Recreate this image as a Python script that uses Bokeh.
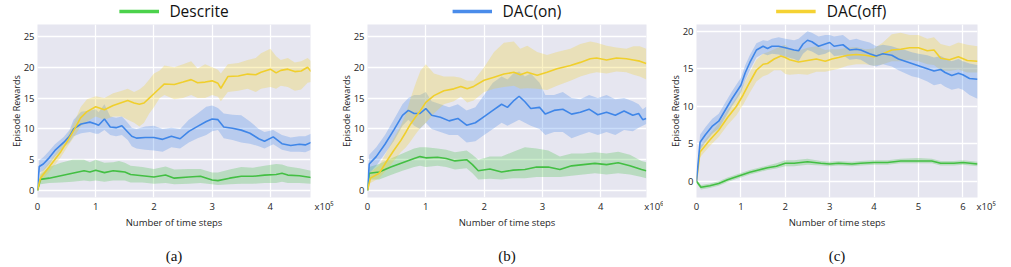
from bokeh.plotting import figure
from bokeh.models import Range1d, FixedTicker, Legend, LegendItem, LinearAxis
from bokeh.layouts import row, column
from bokeh.embed import file_html
from bokeh.resources import INLINE

# ---------------- data ----------------
x_ticks_ab = [0, 1, 2, 3, 4]
x_ticks_c = [0, 1, 2, 3, 4, 5, 6]
y_ticks_ab = [0, 5, 10, 15, 20, 25]
y_ticks_c = [0, 5, 10, 15, 20]
legend_names = ["Descrite", "DAC(on)", "DAC(off)"]
captions = ["(a)", "(b)", "(c)"]
x_exponents = ["x10\u2075", "x10\u2076", "x10\u2075"]

# panel (a)
a_yel_x = [0, 0.05, 0.2, 0.4, 0.52, 0.65, 0.74, 0.85, 1.0, 1.15, 1.3, 1.45, 1.55, 1.66, 1.75, 1.83, 1.92, 2.0, 2.1, 2.18, 2.35, 2.5, 2.64, 2.75, 2.88, 3.0, 3.1, 3.15, 3.27, 3.45, 3.61, 3.75, 3.84, 4.0, 4.1, 4.18, 4.3, 4.42, 4.53, 4.64, 4.70]
a_yel = [0, 2.0, 3.8, 6.3, 8.1, 10.2, 11.8, 12.8, 13.6, 13.1, 13.8, 14.3, 14.6, 14.2, 14.0, 14.2, 15.0, 15.7, 16.6, 17.3, 17.2, 17.6, 18.0, 17.5, 17.6, 17.8, 17.4, 16.6, 18.5, 18.6, 18.9, 18.8, 19.2, 19.7, 19.1, 19.5, 19.7, 19.3, 19.4, 20.0, 19.3]
a_yel_hi = [0, 2.8, 4.6, 7.2, 9.0, 11.5, 13.5, 14.8, 15.3, 15.0, 15.8, 16.2, 16.5, 16.0, 16.4, 17.0, 18.0, 19.0, 19.5, 20.3, 20.0, 20.5, 21.0, 19.8, 20.5, 20.0, 19.6, 19.0, 20.5, 20.7, 21.2, 21.5, 22.3, 23.0, 21.8, 21.2, 21.5, 20.8, 21.0, 21.5, 21.0]
a_yel_lo = [0, 1.3, 3.0, 5.4, 7.2, 9.0, 10.4, 11.2, 12.0, 11.5, 12.0, 12.0, 11.5, 11.0, 10.4, 11.0, 12.5, 13.5, 15.0, 15.5, 14.8, 15.0, 15.5, 15.0, 15.0, 15.5, 15.2, 14.5, 16.0, 16.2, 16.5, 16.0, 16.5, 16.8, 16.5, 17.0, 16.8, 16.2, 16.4, 17.5, 17.6]

a_blu_x = [0, 0.03, 0.1, 0.2, 0.3, 0.45, 0.55, 0.62, 0.75, 0.9, 1.0, 1.05, 1.15, 1.25, 1.35, 1.45, 1.55, 1.62, 1.7, 1.85, 2.0, 2.15, 2.3, 2.45, 2.6, 2.75, 2.9, 3.0, 3.1, 3.2, 3.35, 3.5, 3.65, 3.8, 3.9, 4.05, 4.2, 4.35, 4.5, 4.6, 4.7]
a_blu = [0, 3.9, 4.3, 5.3, 6.5, 7.8, 8.8, 10.0, 10.8, 11.1, 10.8, 10.6, 11.6, 10.3, 10.2, 10.5, 9.5, 8.8, 8.5, 8.6, 8.6, 8.3, 8.8, 8.4, 9.6, 10.4, 11.2, 11.6, 11.5, 10.3, 10.1, 9.8, 9.3, 8.4, 8.0, 8.7, 7.6, 7.3, 7.5, 7.4, 7.8]
a_blu_hi = [0, 4.9, 5.4, 6.4, 7.5, 8.7, 9.8, 11.5, 12.8, 13.0, 13.2, 12.7, 14.0, 12.0, 11.8, 12.0, 11.0, 10.2, 10.0, 10.4, 10.5, 10.0, 10.2, 10.0, 11.5, 12.5, 13.6, 13.8, 13.4, 12.5, 12.3, 12.2, 11.2, 10.0, 9.5, 9.8, 9.0, 8.6, 8.8, 8.8, 9.2]
a_blu_lo = [0, 2.9, 3.2, 4.2, 5.5, 7.0, 7.8, 8.8, 9.3, 9.5, 9.2, 9.2, 9.8, 9.0, 8.8, 9.0, 8.2, 7.2, 6.8, 6.6, 6.5, 6.3, 7.0, 6.8, 7.8, 8.5, 9.0, 9.6, 9.8, 8.5, 8.2, 7.8, 7.6, 7.2, 6.8, 7.5, 6.6, 6.3, 6.3, 6.2, 6.6]

a_grn_x = [0, 0.05, 0.2, 0.4, 0.6, 0.8, 0.9, 1.0, 1.15, 1.3, 1.4, 1.5, 1.6, 1.8, 2.0, 2.2, 2.35, 2.6, 2.8, 3.0, 3.1, 3.3, 3.5, 3.7, 3.9, 4.1, 4.2, 4.3, 4.5, 4.7]
a_grn = [0, 1.8, 2.0, 2.4, 2.8, 3.2, 3.0, 3.3, 2.9, 3.2, 3.1, 3.0, 2.6, 2.4, 2.2, 2.5, 2.0, 2.2, 2.3, 1.7, 1.6, 2.0, 2.3, 2.3, 2.5, 2.6, 2.8, 2.5, 2.4, 2.1]
a_grn_hi = [0, 2.6, 3.8, 4.5, 5.0, 5.0, 4.6, 5.0, 4.5, 4.6, 4.8, 4.5, 4.0, 3.8, 3.5, 3.9, 3.4, 3.5, 3.5, 2.9, 2.9, 3.4, 3.8, 3.7, 4.0, 4.3, 4.2, 3.9, 3.6, 3.2]
a_grn_lo = [0, 1.0, 1.2, 1.3, 1.4, 1.6, 1.5, 1.6, 1.4, 1.6, 1.6, 1.6, 1.3, 1.3, 1.1, 1.2, 1.0, 1.1, 1.2, 1.0, 0.9, 1.0, 1.1, 1.1, 1.2, 1.2, 1.4, 1.2, 1.2, 1.1]

# panel (b)
b_yel_x = [0, 0.05, 0.2, 0.34, 0.45, 0.57, 0.66, 0.74, 0.83, 0.91, 1.0, 1.14, 1.31, 1.48, 1.6, 1.71, 1.82, 2.0, 2.17, 2.34, 2.51, 2.62, 2.74, 2.91, 3.08, 3.25, 3.48, 3.65, 3.82, 3.93, 4.1, 4.27, 4.44, 4.56, 4.67, 4.78]
b_yel = [0, 2.0, 2.8, 4.9, 6.5, 8.1, 9.5, 10.8, 12.0, 13.0, 14.3, 15.4, 16.2, 16.5, 16.9, 16.5, 16.9, 17.9, 18.4, 18.9, 19.2, 18.8, 19.2, 18.7, 19.2, 19.75, 20.3, 20.8, 21.4, 21.5, 21.2, 21.5, 21.4, 21.2, 21.0, 20.6]
b_yel_hi = [0, 3.0, 4.0, 6.5, 8.5, 10.5, 12.5, 15.0, 17.5, 19.5, 20.5, 19.0, 18.5, 18.5, 18.3, 17.8, 17.8, 20.0, 22.5, 24.0, 24.2, 23.0, 23.5, 22.5, 22.0, 22.5, 23.0, 23.8, 24.2, 24.0, 23.5, 23.2, 23.0, 23.4, 23.4, 23.0]
b_yel_lo = [0, 1.2, 2.0, 3.5, 4.8, 6.2, 7.0, 8.0, 9.2, 10.2, 11.0, 12.5, 14.0, 14.5, 15.2, 14.3, 14.6, 16.0, 16.5, 16.8, 17.0, 16.5, 16.6, 16.5, 16.3, 17.0, 17.8, 18.5, 19.0, 19.2, 19.0, 19.3, 19.2, 18.8, 18.5, 18.0]

b_blu_x = [0, 0.03, 0.15, 0.3, 0.45, 0.6, 0.7, 0.8, 0.9, 1.0, 1.1, 1.25, 1.4, 1.55, 1.7, 1.85, 2.0, 2.15, 2.3, 2.4, 2.5, 2.6, 2.7, 2.8, 2.95, 3.05, 3.2, 3.35, 3.5, 3.65, 3.8, 3.95, 4.1, 4.25, 4.4, 4.55, 4.65, 4.72, 4.78]
b_blu = [0, 4.3, 5.5, 7.5, 9.8, 12.2, 13.0, 12.5, 12.5, 13.3, 12.2, 11.9, 11.3, 11.7, 10.6, 11.0, 12.0, 13.0, 14.0, 13.5, 14.5, 15.3, 14.4, 13.3, 13.5, 12.4, 13.0, 13.2, 12.4, 12.7, 13.2, 12.3, 12.7, 12.2, 12.9, 12.2, 12.5, 11.5, 11.7]
b_blu_hi = [0, 5.8, 7.0, 9.0, 11.5, 14.0, 15.0, 15.5, 15.5, 16.0, 14.5, 14.0, 13.5, 14.0, 13.0, 13.5, 15.5, 17.5, 18.5, 18.0, 19.0, 19.3, 18.5, 19.0, 17.5, 15.5, 15.5, 16.0, 15.0, 14.8, 15.5, 15.0, 15.5, 14.8, 15.0, 14.5, 14.0, 13.2, 13.6]
b_blu_lo = [0, 2.8, 4.0, 6.0, 8.0, 10.5, 11.5, 10.5, 10.0, 11.0, 10.0, 9.5, 9.0, 9.0, 7.8, 8.0, 9.0, 10.0, 11.0, 10.5, 11.0, 11.5, 11.0, 10.5, 10.0, 9.0, 9.5, 9.5, 8.5, 9.0, 9.5, 9.0, 9.5, 9.0, 9.8, 9.6, 10.2, 10.5, 10.8]

b_grn_x = [0, 0.03, 0.2, 0.4, 0.6, 0.8, 0.9, 1.0, 1.2, 1.35, 1.5, 1.7, 1.8, 1.9, 2.1, 2.3, 2.5, 2.7, 2.9, 3.1, 3.3, 3.5, 3.7, 3.9, 4.1, 4.3, 4.5, 4.7, 4.78]
b_grn = [0, 2.8, 3.0, 3.8, 4.5, 5.2, 5.5, 5.3, 5.4, 5.2, 4.8, 5.0, 4.2, 3.2, 3.5, 3.0, 3.3, 3.4, 3.8, 3.8, 3.4, 4.0, 4.2, 4.4, 4.2, 4.5, 4.0, 3.4, 3.2]
b_grn_hi = [0, 3.8, 4.3, 5.2, 6.0, 6.8, 7.0, 7.0, 6.8, 6.6, 6.2, 6.5, 5.8, 5.0, 5.5, 5.5, 6.3, 7.0, 6.8, 6.5, 5.5, 6.0, 6.0, 6.2, 6.0, 6.3, 5.8, 4.8, 4.6]
b_grn_lo = [0, 1.8, 1.8, 2.5, 3.2, 3.8, 4.0, 3.8, 4.0, 3.8, 3.4, 3.6, 2.8, 1.8, 1.9, 1.8, 2.0, 2.0, 2.2, 2.2, 2.2, 2.4, 2.6, 2.8, 2.6, 2.8, 2.6, 2.2, 2.0]

# panel (c)
c_blu_x = [0, 0.08, 0.2, 0.35, 0.5, 0.65, 0.8, 1.0, 1.1, 1.2, 1.35, 1.5, 1.6, 1.7, 1.85, 2.0, 2.2, 2.3, 2.4, 2.5, 2.6, 2.75, 2.9, 3.0, 3.1, 3.3, 3.45, 3.6, 3.7, 3.9, 4.05, 4.2, 4.4, 4.55, 4.7, 4.85, 5.0, 5.2, 5.35, 5.5, 5.6, 5.75, 5.9, 6.0, 6.15, 6.33]
c_blu = [0, 5.2, 6.2, 7.3, 8.0, 9.5, 11.0, 12.8, 14.5, 15.8, 17.5, 18.0, 17.7, 18.0, 18.0, 17.8, 17.5, 17.4, 18.3, 18.8, 18.6, 18.0, 18.3, 18.5, 18.0, 18.2, 17.5, 17.6, 17.5, 17.0, 16.7, 17.0, 16.8, 16.3, 16.0, 15.7, 15.4, 15.0, 14.7, 14.9, 14.5, 14.1, 14.4, 14.2, 13.7, 13.6]
c_blu_hi = [0, 6.2, 7.2, 8.3, 9.0, 10.5, 12.0, 13.8, 15.5, 16.8, 18.4, 18.8, 18.7, 19.0, 19.2, 19.0, 18.8, 19.0, 19.5, 20.0, 19.8, 19.3, 19.5, 19.5, 19.3, 19.5, 18.8, 19.0, 18.8, 18.5, 18.0, 18.2, 18.0, 17.7, 17.5, 17.2, 17.0, 16.8, 16.5, 16.7, 16.4, 16.0, 16.3, 16.0, 15.7, 15.5]
c_blu_lo = [0, 4.2, 5.2, 6.3, 7.0, 8.5, 10.0, 11.8, 13.5, 14.8, 16.5, 17.0, 16.8, 17.0, 16.9, 16.6, 16.3, 16.0, 17.0, 17.5, 17.3, 16.8, 17.0, 17.3, 16.7, 16.8, 16.2, 16.3, 16.2, 15.5, 15.3, 15.6, 15.3, 14.8, 14.4, 14.0, 13.8, 13.3, 12.8, 13.0, 12.6, 12.2, 12.4, 12.2, 11.5, 11.0]

c_yel_x = [0, 0.08, 0.3, 0.5, 0.7, 0.9, 1.05, 1.2, 1.35, 1.5, 1.6, 1.75, 1.9, 2.0, 2.1, 2.3, 2.5, 2.7, 2.9, 3.05, 3.2, 3.4, 3.6, 3.8, 4.0, 4.2, 4.4, 4.6, 4.8, 5.0, 5.2, 5.35, 5.5, 5.7, 5.9, 6.1, 6.33]
c_yel = [0, 3.9, 5.5, 6.8, 8.5, 10.0, 11.5, 13.2, 14.8, 15.6, 15.7, 16.3, 16.7, 16.5, 16.2, 15.9, 16.1, 16.3, 16.0, 16.3, 16.5, 16.8, 16.9, 16.8, 16.6, 17.0, 17.5, 17.6, 17.8, 17.8, 17.4, 17.5, 16.4, 16.2, 16.6, 16.1, 16.0]
c_yel_hi = [0, 4.6, 6.3, 7.7, 9.5, 11.2, 12.8, 14.5, 16.2, 17.0, 17.2, 17.6, 18.0, 18.2, 17.6, 17.4, 17.8, 18.0, 17.5, 17.6, 17.6, 17.8, 17.9, 17.6, 17.7, 18.5, 19.6, 19.8, 19.5, 19.5, 19.0, 19.2, 18.3, 18.0, 18.5, 18.2, 18.0]
c_yel_lo = [0, 3.2, 4.7, 5.9, 7.5, 8.8, 10.2, 11.8, 13.3, 14.0, 14.2, 14.8, 14.8, 14.3, 14.2, 14.3, 14.2, 14.6, 14.6, 14.8, 15.0, 15.4, 15.6, 15.6, 15.4, 15.6, 16.0, 16.0, 16.2, 16.0, 15.6, 15.5, 14.8, 14.7, 14.9, 14.5, 14.5]

c_grn_x = [0, 0.1, 0.3, 0.5, 0.7, 0.9, 1.0, 1.2, 1.4, 1.6, 1.8, 2.0, 2.2, 2.5, 2.8, 3.0, 3.2, 3.5, 3.7, 4.0, 4.3, 4.6, 5.0, 5.3, 5.5, 5.8, 6.0, 6.33]
c_grn = [0, -0.8, -0.6, -0.3, 0.2, 0.6, 0.8, 1.2, 1.5, 1.8, 2.0, 2.4, 2.4, 2.6, 2.4, 2.3, 2.4, 2.3, 2.4, 2.5, 2.5, 2.7, 2.7, 2.7, 2.4, 2.4, 2.5, 2.3]
c_grn_hi = [0.2, -0.5, -0.3, 0.0, 0.5, 0.9, 1.1, 1.5, 1.8, 2.1, 2.4, 2.8, 2.8, 3.0, 2.7, 2.6, 2.7, 2.6, 2.7, 2.8, 2.8, 3.0, 3.1, 3.0, 2.7, 2.7, 2.8, 2.6]
c_grn_lo = [-0.2, -1.1, -0.9, -0.6, -0.1, 0.3, 0.5, 0.9, 1.2, 1.5, 1.7, 2.0, 2.0, 2.2, 2.1, 2.0, 2.1, 2.0, 2.1, 2.2, 2.2, 2.4, 2.4, 2.4, 2.1, 2.1, 2.2, 2.0]

# ---------------- style ----------------
BG = "#E6E6F0"
C_BLUE = "#3F86E8"
C_YEL = "#F0CF2C"
C_GRN = "#43BF43"
LEG_COLORS = ["#4CD24C", "#4A8CEA", "#F5D233"]
FONT = "Open Sans"
HEAD_H = 24
MAIN_H = 242
NBSP = "\u00a0"


def make_panel(width, bl, br, x_end, y_start, y_end, xticks, yticks, series,
               exp_text, exp_pad, caption):
    p = figure(width=width, height=MAIN_H, x_range=Range1d(0, x_end),
               y_range=Range1d(y_start, y_end), output_backend="svg",
               toolbar_location=None, min_border_left=bl, min_border_right=br,
               min_border_top=0, min_border_bottom=69,
               background_fill_color=BG, border_fill_color="white",
               outline_line_color=None)
    for xs, m, lo, hi, col in series:
        p.varea(x=xs, y1=lo, y2=hi, fill_color=col, fill_alpha=0.28)
    for xs, m, lo, hi, col in series:
        p.line(x=xs, y=m, line_color=col, line_width=1.6)

    # x axis: integer ticks plus the exponent note at the right end of the range
    p.xaxis.ticker = FixedTicker(ticks=xticks + [x_end])
    p.xaxis.major_label_overrides = {x_end: NBSP * exp_pad + exp_text}
    p.yaxis.ticker = FixedTicker(ticks=yticks)
    p.xgrid.ticker = FixedTicker(ticks=xticks)
    p.ygrid.ticker = FixedTicker(ticks=yticks)
    p.grid.grid_line_color = "white"
    p.grid.grid_line_width = 1.3
    for ax in (p.xaxis, p.yaxis):
        ax.axis_line_color = None
        ax.major_tick_line_color = None
        ax.minor_tick_line_color = None
        ax.major_tick_out = 0
        ax.major_tick_in = 0
        ax.minor_tick_out = 0
        ax.major_label_text_font = FONT
        ax.major_label_text_font_size = "9.5px"
        ax.major_label_text_color = "#262626"
        ax.axis_label_text_font = FONT
        ax.axis_label_text_font_size = "9.5px"
        ax.axis_label_text_font_style = "normal"
        ax.axis_label_text_color = "#262626"
    p.xaxis.axis_label = "Number of time steps"
    p.xaxis.major_label_standoff = 2
    p.xaxis.axis_label_standoff = 0
    p.yaxis.axis_label = "Episode Rewards"
    p.yaxis.axis_label_text_font_size = "9px"
    p.yaxis.major_label_standoff = 3
    p.yaxis.axis_label_standoff = -2

    # caption below the x-axis label
    cap = LinearAxis(ticker=FixedTicker(ticks=[]), axis_label=caption,
                     axis_line_color=None, major_tick_out=0, major_tick_in=0,
                     minor_tick_out=0, major_label_standoff=0,
                     axis_label_standoff=16,
                     axis_label_text_font="Liberation Serif",
                     axis_label_text_font_size="15px",
                     axis_label_text_font_style="normal",
                     axis_label_text_color="#111111")
    p.add_layout(cap, "below")
    return p


def make_header(width, bl, br, xs, ys, name, color):
    # a strip that only carries the legend; its y range lies far from the data,
    # so the series line itself is not drawn here, only its legend glyph
    h = figure(width=width, height=HEAD_H, x_range=Range1d(0, 1),
               y_range=Range1d(-100, -99),
               output_backend="svg", toolbar_location=None,
               x_axis_location=None, y_axis_location=None,
               min_border_left=bl, min_border_right=br, min_border_top=0,
               min_border_bottom=0, outline_line_color=None,
               background_fill_color="white", border_fill_color="white")
    h.grid.visible = False
    r = h.line(x=xs, y=ys, line_color=color, line_width=3.5)
    leg = Legend(items=[LegendItem(label=name, renderers=[r])],
                 location="top_center", orientation="horizontal",
                 border_line_color=None, background_fill_alpha=0,
                 label_text_font=FONT, label_text_font_size="15.5px",
                 label_text_color="#111111",
                 glyph_width=40, glyph_height=16, label_height=16,
                 padding=0, margin=0, label_standoff=11, spacing=0)
    h.add_layout(leg)
    return h


pa = make_panel(334, 37, 24, 4.69, -1.14, 26.95, x_ticks_ab, y_ticks_ab,
                [(a_grn_x, a_grn, a_grn_lo, a_grn_hi, C_GRN),
                 (a_blu_x, a_blu, a_blu_lo, a_blu_hi, C_BLUE),
                 (a_yel_x, a_yel, a_yel_lo, a_yel_hi, C_YEL)],
                x_exponents[0], 11, captions[0])
pb = make_panel(329, 33, 17, 4.785, -1.14, 26.95, x_ticks_ab, y_ticks_ab,
                [(b_grn_x, b_grn, b_grn_lo, b_grn_hi, C_GRN),
                 (b_blu_x, b_blu, b_blu_lo, b_blu_hi, C_BLUE),
                 (b_yel_x, b_yel, b_yel_lo, b_yel_hi, C_YEL)],
                x_exponents[1], 6, captions[1])
pc = make_panel(347, 33, 33, 6.33, -2.17, 20.9, x_ticks_c, y_ticks_c,
                [(c_grn_x, c_grn, c_grn_lo, c_grn_hi, C_GRN),
                 (c_yel_x, c_yel, c_yel_lo, c_yel_hi, C_YEL),
                 (c_blu_x, c_blu, c_blu_lo, c_blu_hi, C_BLUE)],
                x_exponents[2], 7, captions[2])

ha = make_header(334, 37, 24, a_grn_x, a_grn, legend_names[0], LEG_COLORS[0])
hb = make_header(329, 33, 17, b_blu_x, b_blu, legend_names[1], LEG_COLORS[1])
hc = make_header(347, 33, 44, c_yel_x, c_yel, legend_names[2], LEG_COLORS[2])

layout = column(row(ha, hb, hc, spacing=0), row(pa, pb, pc, spacing=0), spacing=0)
open("out.html", "w").write(file_html(layout, INLINE))
